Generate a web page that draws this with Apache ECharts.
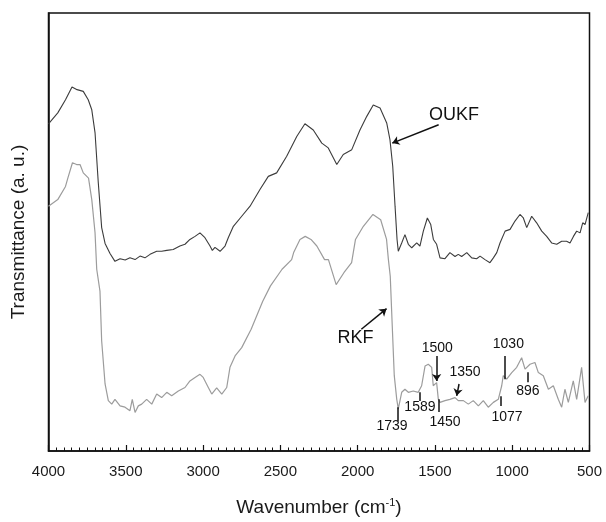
<!DOCTYPE html>
<html><head><meta charset="utf-8">
<script src="https://cdn.jsdelivr.net/npm/echarts@6/dist/echarts.min.js"></script>
<style>html,body{margin:0;padding:0;background:#fff}#c{width:606px;height:522px}</style>
</head><body><div id="c"></div>
<script>
// OUKF spectrum (upper, dark)
const oukfWn = [4000,3940,3890,3848,3815,3775,3743,3720,3699,3678,
  3656,3634,3602,3570,3537,3504,3473,3440,3408,3376,3343,3300,3268,3235,3193,3150,3117,3085,3052,3020,2988,2955,2940,2923,2890,2858,2837,2804,
  2750,2696,2632,2578,2524,2459,2394,2341,2287,2232,2190,2135,2093,2038,1985,1941,1899,1855,1812,1791,1773,
  1758,1745,1737,1715,1694,1672,1650,1618,1597,1575,1549,1527,1510,1489,1467,1435,1403,1370,1349,1327,1294,1262,1230,1208,1176,1144,1122,1100,1079,1046,1014,982,950,928,906,874,842,809,777,745,712,680,648,626,604,583,561,544,529,508];
const oukfT = [74.7,77.2,80.2,83.1,82.5,82.1,80.2,77.9,72.7,61.3,
  51.0,47.4,45.1,43.3,43.9,43.6,44.1,43.7,44.5,44.1,44.9,45.6,45.6,45.8,46.0,46.8,47.2,48.3,49.0,49.8,48.7,46.8,45.8,46.5,45.6,46.8,48.7,51.3,
  53.6,55.9,59.7,62.7,63.5,67.3,71.8,74.7,73.3,70.3,69.2,65.4,67.7,68.8,73.3,76.4,79.0,78.3,74.9,71.1,65.0,
  55.9,48.3,45.6,47.5,49.4,47.2,46.4,47.5,46.8,50.2,53.2,51.7,48.3,47.2,44.1,43.9,45.3,44.4,44.9,44.4,45.3,44.1,43.9,44.5,43.7,43.0,44.1,45.3,47.5,50.2,50.6,52.5,54.0,53.2,51.0,53.6,52.1,50.2,49.0,47.5,47.2,47.9,47.9,47.5,49.0,50.2,49.8,52.1,51.7,54.4];
// RKF spectrum (lower, light)
const rkfWn = [4000,3940,3890,3874,3845,3818,3796,3775,3741,3720,3699,3688,
  3667,3656,3634,3613,3591,3570,3537,3505,3473,3458,3440,3419,3397,3365,3332,3300,3268,3235,3203,3160,3117,3085,3052,3020,2999,2966,2944,2912,2879,2847,2826,2793,2750,
  2689,2614,2564,2489,2427,2414,2373,2339,2302,2264,2214,2189,2139,2089,2039,2014,1963,1901,1851,1813,1801,1789,1776,1763,1747,1737,
  1715,1694,1672,1640,1608,1586,1564,1543,1521,1511,1489,1478,1467,1435,1403,1370,1349,1316,1284,1252,1219,1187,1155,1122,1090,1068,1058,1036,1003,971,939,917,885,853,831,799,766,734,702,680,659,637,605,583,551,529,508];
const rkfT = [55.9,57.4,60.4,62.4,65.8,65.4,65.4,63.5,62.3,57.4,49.9,41.5,
  36.5,25.1,15.3,11.5,10.7,11.8,10.3,10.0,9.2,11.8,8.8,10.3,10.7,11.8,10.7,13.0,12.2,13.4,12.6,13.7,14.5,16.0,16.8,17.5,16.8,14.5,13.0,14.4,13.0,14.5,19.1,21.7,23.6,
  27.8,34.2,37.7,41.5,43.7,45.3,48.3,49.0,48.3,46.8,43.7,43.7,38.0,40.7,43.0,48.3,51.3,54.0,52.8,48.3,43.7,39.9,28.5,17.2,11.8,9.6,
  13.4,14.1,13.4,13.7,13.4,14.9,19.4,19.8,19.1,14.9,15.6,11.8,11.1,11.5,11.8,12.2,11.5,11.5,10.7,11.5,10.3,11.5,10.0,11.1,11.8,14.9,17.2,16.4,17.9,19.1,21.3,18.7,19.8,20.2,17.9,17.2,14.1,14.9,11.8,10.0,14.1,11.1,16.0,11.8,19.1,11.1,12.6];
// annotations
const annotTexts = ['OUKF','RKF','1500','1350','1030','896','1589','1450','1077','1739'];
const annotWn    = [1376, 2014, 1485, 1305, 1025, 898, 1597, 1435, 1034, 1778];
const annotT     = [76.8, 25.7, 23.4, 18.0, 24.4, 13.7, 10.0, 6.6, 7.7, 5.7];
// pointer lines: [wn1, T1, wn2, T2, hasArrow]
const pointers = [
  [1476,74.5,1776,70.3,1],
  [1976,27.8,1813,32.5,1],
  [1489,21.7,1489,16.0,1],
  [1344,15.3,1359,12.6,1],
  [1051,21.7,1051,16.4,0],
  [900,18.0,900,15.7,0],
  [1597,13.4,1597,11.4,0],
  [1474,11.8,1474,8.9,0],
  [1074,12.5,1074,10.3,0],
  [1739,10.0,1739,6.8,0]
];
const xTickLabels = [4000,3500,3000,2500,2000,1500,1000,500];

const FONT = 'Liberation Sans, Arial, sans-serif';
const zip = (a,b) => a.slice(0, Math.min(a.length,b.length)).map((v,i)=>[v,b[i]]);

const chart = echarts.init(document.getElementById('c'), null, {renderer:'canvas'});
chart.setOption({
  animation:false,
  backgroundColor:'#fff',
  grid:{left:48.5, right:16.5, top:13, bottom:70, show:true, borderColor:'#111', borderWidth:1.5, containLabel:false},
  xAxis:{
    type:'value', min:500, max:4000, interval:500, inverse:true,
    axisLine:{show:true, lineStyle:{color:'#111', width:1.5}},
    axisTick:{show:true, inside:true, length:6, lineStyle:{color:'#111', width:1.2}},
    minorTick:{show:true, splitNumber:10, length:3.5, lineStyle:{color:'#111', width:1}},
    splitLine:{show:false},
    axisLabel:{show:true, fontFamily:FONT, fontSize:15, color:'#1a1a1a', margin:13,
      formatter:v => xTickLabels.includes(v) ? String(v) : ''},
    name:'{a|Wavenumber (cm}{s|-1}{a|)}', nameLocation:'middle', nameGap:46,
    nameTextStyle:{rich:{a:{fontFamily:FONT, fontSize:19, color:'#1a1a1a'}, s:{fontFamily:FONT, fontSize:11, color:'#1a1a1a', verticalAlign:'top', padding:[0,0,10,0]}}}
  },
  yAxis:{
    type:'value', min:0, max:100,
    axisLine:{show:true, lineStyle:{color:'#111', width:1.5}},
    axisTick:{show:false}, axisLabel:{show:false}, splitLine:{show:false},
    name:'Transmittance (a. u.)', nameLocation:'middle', nameGap:20,
    nameTextStyle:{fontFamily:FONT, fontSize:19, color:'#1a1a1a'}
  },
  series:[
    {type:'line', name:'OUKF', data:zip(oukfWn,oukfT), showSymbol:false, smooth:false,
      lineStyle:{color:'#3c3c3c', width:1.1}, itemStyle:{color:'#3c3c3c'}},
    {type:'line', name:'RKF', data:zip(rkfWn,rkfT), showSymbol:false, smooth:false,
      lineStyle:{color:'#9c9c9c', width:1.2}, itemStyle:{color:'#9c9c9c'}},
    {type:'scatter', name:'labels', symbolSize:0, silent:true,
      itemStyle:{opacity:1, color:'#000'},
      data: annotTexts.map((t,i)=>({value:[annotWn[i], annotT[i]], name:t,
        label:{show:true, position:'inside', formatter:t, fontFamily:FONT, opacity:1,
          fontSize:(t==='OUKF'||t==='RKF')?18:14, color:'#111'}})),
      markLine:{silent:true, animation:false, symbolSize:8, label:{show:false},
        lineStyle:{color:'#111', width:1.5, type:'solid', opacity:1},
        data: pointers.map(p=>[
          {coord:[p[0],p[1]], symbol:'none'},
          {coord:[p[2],p[3]], symbol:p[4]?'arrow':'none', symbolSize:p[4]?7:0}
        ])}
    }
  ]
});
</script></body></html>
